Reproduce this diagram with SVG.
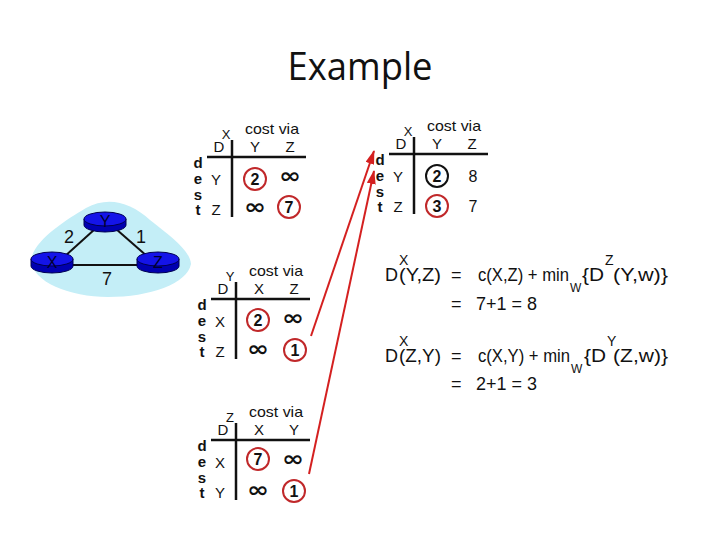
<svg xmlns="http://www.w3.org/2000/svg" width="720" height="540" viewBox="0 0 720 540">
<style>
  text { font-family: "Liberation Sans", Arial, sans-serif; fill: #111; }
  .title { font-family: "Open Sans", "Liberation Sans", sans-serif; font-size: 39px; text-anchor: middle; }
  .hdr { font-size: 15px; text-anchor: middle; }
  .cv { font-size: 15px; text-anchor: middle; }
  .sup { font-size: 13px; text-anchor: middle; }
  .dest { font-size: 15px; font-weight: bold; text-anchor: middle; }
  .num { font-size: 16px; font-weight: bold; text-anchor: middle; }
  .plain { font-size: 16px; text-anchor: middle; }
  .inf { font-family: "DejaVu Sans", sans-serif; font-size: 21px; font-weight: bold; text-anchor: middle; }
  .rule { stroke: #111; stroke-width: 2.5; }
  .circ { fill: none; stroke: #c0282a; stroke-width: 2; }
  .circk { fill: none; stroke: #111; stroke-width: 2; }
  .link { stroke: #111; stroke-width: 2; }
  .rside { fill: #0000b0; stroke: #000050; stroke-width: 1; }
  .rtop { fill: #1414e8; stroke: #000050; stroke-width: 1; }
  .rlab { font-size: 16px; text-anchor: middle; fill: #000030; }
  .wlab { font-size: 18px; text-anchor: middle; }
  .eq { font-size: 18px; }
  .esup { font-size: 14px; }
  .esub { font-size: 12px; }
  .arrow { stroke: #d42020; stroke-width: 2; fill: none; marker-end: url(#ah); }
</style>
<defs>
  <marker id="ah" viewBox="0 0 14 9" refX="13" refY="4.5" markerWidth="14" markerHeight="9" markerUnits="userSpaceOnUse" orient="auto">
    <path d="M0,0 L14,4.5 L0,9 Z" fill="#d42020"/>
  </marker>
</defs>
<rect width="720" height="540" fill="#ffffff"/>

<text class="title" x="360" y="80" textLength="145" lengthAdjust="spacingAndGlyphs">Example</text>

<g id="network">
  <path d="M31,260 C34,240 66,220 86,208 C108,196 130,202 150,220 C170,236 190,250 191,264 C187,284 150,297 108,297 C70,297 32,282 31,260 Z" fill="#c4eef7"/>
  <line class="link" x1="64" y1="257" x2="95" y2="229"/>
  <line class="link" x1="116" y1="229" x2="148" y2="257"/>
  <line class="link" x1="70" y1="265" x2="140" y2="265"/>
  <text class="wlab" x="69" y="243">2</text>
  <text class="wlab" x="141" y="243">1</text>
  <text class="wlab" x="107" y="285">7</text>
</g>
<g id="router-y">
  <path class="rside" d="M84,219 L84,225 A21,7 0 0 0 126,225 L126,219 Z"/>
  <ellipse class="rtop" cx="105" cy="219" rx="21" ry="7"/>
  <text class="rlab" x="105" y="227">Y</text>
</g>
<g id="router-x">
  <path class="rside" d="M31,259 L31,266 A21,7 0 0 0 73,266 L73,259 Z"/>
  <ellipse class="rtop" cx="52" cy="259" rx="21" ry="7"/>
  <text class="rlab" x="52" y="268">X</text>
</g>
<g id="router-z">
  <path class="rside" d="M137,259 L137,266 A21,7 0 0 0 179,266 L179,259 Z"/>
  <ellipse class="rtop" cx="158" cy="259" rx="21" ry="7"/>
  <text class="rlab" x="158" y="268">Z</text>
</g>

<g id="table-x">
  <text class="cv" x="272" y="134" textLength="54" lengthAdjust="spacingAndGlyphs">cost via</text>
  <text class="hdr" x="219" y="152">D</text>
  <text class="sup" x="226" y="139">X</text>
  <text class="hdr" x="255" y="152">Y</text>
  <text class="hdr" x="290" y="152">Z</text>
  <line class="rule" x1="207" y1="157" x2="306" y2="157"/>
  <line class="rule" x1="232" y1="140" x2="232" y2="217"/>
  <text class="dest" x="198" y="168">d</text>
  <text class="dest" x="198" y="184">e</text>
  <text class="dest" x="198" y="200">s</text>
  <text class="dest" x="198" y="215">t</text>
  <text class="hdr" x="216" y="185">Y</text>
  <text class="hdr" x="216" y="215">Z</text>
  <circle class="circ" cx="255" cy="179" r="11"/>
  <text class="num" x="255" y="185">2</text>
  <text class="inf" x="290" y="183" textLength="22" lengthAdjust="spacingAndGlyphs">∞</text>
  <text class="inf" x="255" y="214" textLength="22" lengthAdjust="spacingAndGlyphs">∞</text>
  <circle class="circ" cx="289" cy="207" r="11"/>
  <text class="num" x="289" y="213">7</text>
</g>

<g id="table-x-new" transform="translate(182,-3)">
  <text class="cv" x="272" y="134" textLength="54" lengthAdjust="spacingAndGlyphs">cost via</text>
  <text class="hdr" x="219" y="152">D</text>
  <text class="sup" x="226" y="139">X</text>
  <text class="hdr" x="255" y="152">Y</text>
  <text class="hdr" x="290" y="152">Z</text>
  <line class="rule" x1="207" y1="157" x2="306" y2="157"/>
  <line class="rule" x1="232" y1="140" x2="232" y2="217"/>
  <text class="dest" x="198" y="168">d</text>
  <text class="dest" x="198" y="184">e</text>
  <text class="dest" x="198" y="200">s</text>
  <text class="dest" x="198" y="215">t</text>
  <text class="hdr" x="216" y="185">Y</text>
  <text class="hdr" x="216" y="215">Z</text>
  <circle class="circk" cx="255" cy="179" r="11"/>
  <text class="num" x="255" y="185">2</text>
  <text class="plain" x="291" y="185">8</text>
  <circle class="circ" cx="255" cy="209" r="11"/>
  <text class="num" x="255" y="215">3</text>
  <text class="plain" x="291" y="215">7</text>
</g>

<g id="table-y" transform="translate(4,142)">
  <text class="cv" x="272" y="134" textLength="54" lengthAdjust="spacingAndGlyphs">cost via</text>
  <text class="hdr" x="219" y="152">D</text>
  <text class="sup" x="226" y="139">Y</text>
  <text class="hdr" x="255" y="152">X</text>
  <text class="hdr" x="290" y="152">Z</text>
  <line class="rule" x1="207" y1="157" x2="306" y2="157"/>
  <line class="rule" x1="232" y1="140" x2="232" y2="217"/>
  <text class="dest" x="198" y="168">d</text>
  <text class="dest" x="198" y="184">e</text>
  <text class="dest" x="198" y="200">s</text>
  <text class="dest" x="198" y="215">t</text>
  <text class="hdr" x="216" y="185">X</text>
  <text class="hdr" x="216" y="215">Z</text>
  <circle class="circ" cx="254" cy="178" r="11"/>
  <text class="num" x="254" y="184">2</text>
  <text class="inf" x="289" y="183" textLength="22" lengthAdjust="spacingAndGlyphs">∞</text>
  <text class="inf" x="254" y="214" textLength="22" lengthAdjust="spacingAndGlyphs">∞</text>
  <circle class="circ" cx="291" cy="208" r="11"/>
  <text class="num" x="291" y="214">1</text>
</g>

<g id="table-z" transform="translate(4,283)">
  <text class="cv" x="272" y="134" textLength="54" lengthAdjust="spacingAndGlyphs">cost via</text>
  <text class="hdr" x="219" y="152">D</text>
  <text class="sup" x="226" y="139">Z</text>
  <text class="hdr" x="255" y="152">X</text>
  <text class="hdr" x="290" y="152">Y</text>
  <line class="rule" x1="207" y1="157" x2="306" y2="157"/>
  <line class="rule" x1="232" y1="140" x2="232" y2="217"/>
  <text class="dest" x="198" y="168">d</text>
  <text class="dest" x="198" y="184">e</text>
  <text class="dest" x="198" y="200">s</text>
  <text class="dest" x="198" y="215">t</text>
  <text class="hdr" x="216" y="185">X</text>
  <text class="hdr" x="216" y="215">Y</text>
  <circle class="circ" cx="254" cy="176" r="11"/>
  <text class="num" x="254" y="182">7</text>
  <text class="inf" x="289" y="183" textLength="22" lengthAdjust="spacingAndGlyphs">∞</text>
  <text class="inf" x="254" y="214" textLength="22" lengthAdjust="spacingAndGlyphs">∞</text>
  <circle class="circ" cx="290" cy="208" r="11"/>
  <text class="num" x="290" y="214">1</text>
</g>

<g id="connectors">
  <line class="arrow" x1="311" y1="336" x2="374" y2="151"/>
  <line class="arrow" x1="309" y1="474" x2="374" y2="171"/>
</g>

<g id="equation-1">
  <text class="eq" x="385" y="281">D</text>
  <text class="esup" x="399" y="265">X</text>
  <text class="eq" x="399" y="281" textLength="42" lengthAdjust="spacingAndGlyphs">(Y,Z)</text>
  <text class="eq" x="451" y="281">=</text>
  <text class="eq" x="478" y="281" textLength="91" lengthAdjust="spacingAndGlyphs">c(X,Z) + min</text>
  <text class="esub" x="570" y="292">W</text>
  <text class="eq" x="582" y="281" textLength="22" lengthAdjust="spacingAndGlyphs">{D</text>
  <text class="esup" x="605" y="265">Z</text>
  <text class="eq" x="613" y="281" textLength="55" lengthAdjust="spacingAndGlyphs">(Y,w)}</text>
  <text class="eq" x="451" y="310">=</text>
  <text class="eq" x="476" y="310" textLength="61" lengthAdjust="spacingAndGlyphs">7+1 = 8</text>
</g>

<g id="equation-2">
  <text class="eq" x="385" y="362">D</text>
  <text class="esup" x="399" y="346">X</text>
  <text class="eq" x="399" y="362" textLength="42" lengthAdjust="spacingAndGlyphs">(Z,Y)</text>
  <text class="eq" x="451" y="362">=</text>
  <text class="eq" x="478" y="362" textLength="92" lengthAdjust="spacingAndGlyphs">c(X,Y) + min</text>
  <text class="esub" x="571" y="373">W</text>
  <text class="eq" x="584" y="362" textLength="22" lengthAdjust="spacingAndGlyphs">{D</text>
  <text class="esup" x="607" y="346">Y</text>
  <text class="eq" x="613" y="362" textLength="55" lengthAdjust="spacingAndGlyphs">(Z,w)}</text>
  <text class="eq" x="451" y="390">=</text>
  <text class="eq" x="476" y="390" textLength="61" lengthAdjust="spacingAndGlyphs">2+1 = 3</text>
</g>
</svg>
